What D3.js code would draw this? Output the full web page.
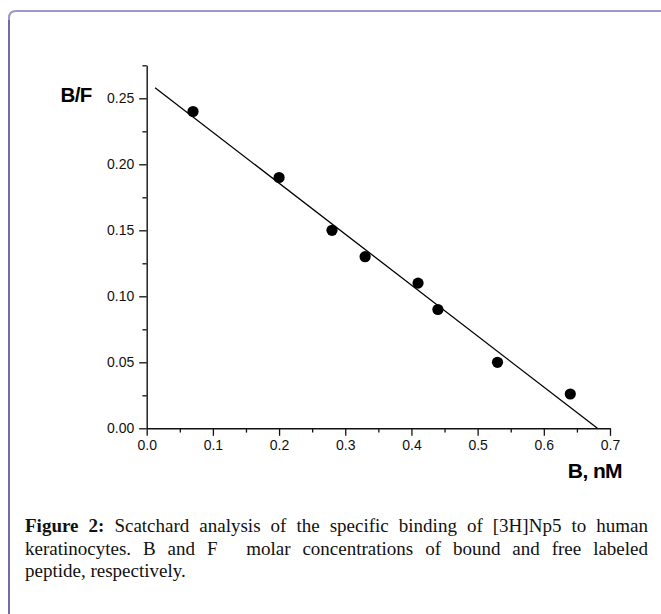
<!DOCTYPE html>
<html>
<head>
<meta charset="utf-8">
<script src="https://cdn.jsdelivr.net/npm/d3@7"></script>
<style>
html,body{margin:0;padding:0;background:#fff;}
svg{display:block;}
</style>
</head>
<body>
<svg id="chart" width="661" height="614"></svg>
<script>
// ---- data ----
const boundNM = [0.07, 0.20, 0.28, 0.33, 0.41, 0.44, 0.53, 0.64];
const ratioBF = [0.24, 0.19, 0.15, 0.13, 0.11, 0.09, 0.05, 0.026];
const fitX = [0.0126, 0.681];
const fitY = [0.258, 0.0];
const xTicks = [0, 0.1, 0.2, 0.3, 0.4, 0.5, 0.6, 0.7];
const xMinor = [0.05, 0.15, 0.25, 0.35, 0.45, 0.55, 0.65];
const yTicks = [0, 0.05, 0.10, 0.15, 0.20, 0.25];
const yMinor = [0.025, 0.075, 0.125, 0.175, 0.225, 0.275];
const xTitle = "B, nM";
const yTitle = "B/F";
const captionLines = [
  [{t:"Figure 2:", b:true}, {t:"Scatchard analysis of the specific binding of [3H]Np5 to human"}],
  [{t:"keratinocytes. B and F \u00a0 molar concentrations of bound and free labeled"}],
  [{t:"peptide, respectively."}]
];

const svg = d3.select("#chart");

// frame
const fx = 9, fy = 11, r = 7;
svg.append("path")
  .attr("d", `M${fx},700 L${fx},${fy + r} Q${fx},${fy} ${fx + r},${fy} L700,${fy}`)
  .attr("fill", "none").attr("stroke", "#9d99c4").attr("stroke-width", 2);
svg.append("path")
  .attr("d", `M${fx},700 L${fx},${fy + r + 2}`)
  .attr("fill", "none").attr("stroke", "#5e5a95").attr("stroke-width", 1.4);

const x = d3.scaleLinear().domain([0, 0.7]).range([146.7, 610]);
const y = d3.scaleLinear().domain([0, 0.275]).range([428.3, 65.3]);

const tickFont = "'Liberation Sans', Arial, sans-serif";

// x axis
const gx = svg.append("g").attr("transform", `translate(0,${y(0)})`);
gx.call(d3.axisBottom(x).tickValues(xTicks).tickFormat(d3.format(".1f")).tickSize(7.5).tickPadding(4).tickSizeOuter(0));
gx.append("g").call(d3.axisBottom(x).tickValues(xMinor).tickFormat("").tickSize(4.3).tickSizeOuter(0))
  .select(".domain").remove();
// y axis
const gy = svg.append("g").attr("transform", `translate(${x(0)},0)`);
gy.call(d3.axisLeft(y).tickValues(yTicks).tickFormat(d3.format(".2f")).tickSize(7.5).tickPadding(5).tickSizeOuter(0));
gy.append("g").call(d3.axisLeft(y).tickValues(yMinor).tickFormat("").tickSize(4.3).tickSizeOuter(0))
  .select(".domain").remove();

svg.selectAll(".domain").attr("stroke", "#111").attr("stroke-width", 1.4);
svg.selectAll(".tick line").attr("stroke", "#111").attr("stroke-width", 1.3);
svg.selectAll(".tick text").attr("font-family", tickFont).attr("font-size", 14).attr("fill", "#111");

// fit line
svg.append("line")
  .attr("x1", x(fitX[0])).attr("y1", y(fitY[0]))
  .attr("x2", x(fitX[1])).attr("y2", y(fitY[1]))
  .attr("stroke", "#000").attr("stroke-width", 1.3);

// points
svg.append("g").selectAll("circle")
  .data(boundNM.map((b, i) => [b, ratioBF[i]]))
  .join("circle")
  .attr("cx", d => x(d[0])).attr("cy", d => y(d[1]))
  .attr("r", 5.6).attr("fill", "#000");

// titles
svg.append("text").attr("x", 60.5).attr("y", 101.7)
  .attr("font-family", tickFont).attr("font-weight", "bold").attr("font-size", 20.5)
  .attr("letter-spacing", -0.6).text(yTitle);
svg.append("text").attr("x", 622).attr("y", 478).attr("text-anchor", "end")
  .attr("font-family", tickFont).attr("font-weight", "bold").attr("font-size", 21)
  .attr("letter-spacing", -0.6).text(xTitle);

// caption (justified)
const capX0 = 25, capX1 = 648, capY = [532, 555, 577];
const capFont = "'Liberation Serif', 'Times New Roman', serif";
let capSize = 19;
function layoutCaption(size) {
  svg.selectAll("g.caption").remove();
  let minGap = Infinity;
  captionLines.forEach((segs, li) => {
    const words = [];
    segs.forEach(s => s.t.split(" ").filter(w => w.length).forEach(w => words.push({t: w, b: !!s.b})));
    const g = svg.append("g").attr("class", "caption");
    const nodes = words.map(w => g.append("text")
      .attr("font-family", capFont).attr("font-size", size)
      .attr("font-weight", w.b ? "bold" : "normal").attr("fill", "#111")
      .attr("y", capY[li]).text(w.t));
    const widths = nodes.map(n => n.node().getComputedTextLength());
    const total = d3.sum(widths);
    const last = li === captionLines.length - 1;
    const gap = last ? size * 0.25 : (capX1 - capX0 - total) / (words.length - 1);
    if (!last) minGap = Math.min(minGap, gap);
    let cx = capX0;
    nodes.forEach((n, i) => { n.attr("x", cx); cx += widths[i] + gap; });
  });
  return minGap;
}
while (layoutCaption(capSize) < capSize * 0.22 && capSize > 12) capSize -= 0.25;
</script>
</body>
</html>
